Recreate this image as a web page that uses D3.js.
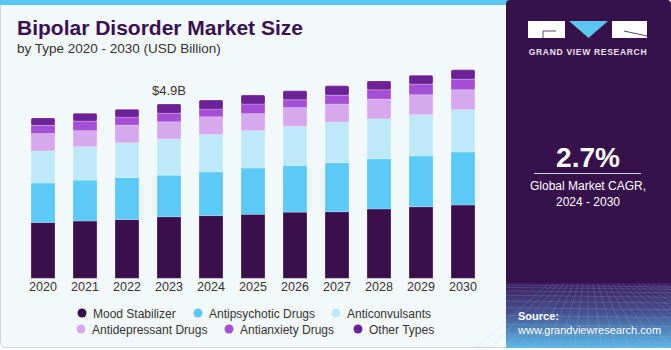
<!DOCTYPE html>
<html>
<head>
<meta charset="utf-8">
<script src="https://cdn.jsdelivr.net/npm/d3@7"></script>
<style>
  html, body { margin: 0; padding: 0; background: #fff; }
  svg { display: block; font-family: "Liberation Sans", Arial, sans-serif; }
</style>
</head>
<body>
<div id="chart"></div>
<script>
// Bipolar disorder market size by type, 2020 - 2030 (USD billion)
const years = ["2020", "2021", "2022", "2023", "2024", "2025", "2026", "2027", "2028", "2029", "2030"];
const seriesNames = ["Mood Stabilizer", "Antipsychotic Drugs", "Anticonvulsants",
                     "Antidepressant Drugs", "Antianxiety Drugs", "Other Types"];
const moodStabilizer = [1.57, 1.61, 1.65, 1.73, 1.76, 1.80, 1.86, 1.87, 1.95, 2.01, 2.06];
const antipsychotic  = [1.11, 1.15, 1.18, 1.17, 1.23, 1.30, 1.31, 1.38, 1.41, 1.43, 1.49];
const anticonvulsant = [0.90, 0.94, 0.98, 1.02, 1.05, 1.05, 1.10, 1.14, 1.12, 1.16, 1.19];
const antidepressant = [0.49, 0.45, 0.50, 0.48, 0.50, 0.48, 0.53, 0.51, 0.56, 0.56, 0.56];
const antianxiety    = [0.23, 0.27, 0.22, 0.24, 0.22, 0.27, 0.22, 0.25, 0.26, 0.30, 0.30];
const otherTypes     = [0.21, 0.22, 0.22, 0.26, 0.25, 0.25, 0.25, 0.26, 0.25, 0.25, 0.26];
const seriesColors = ["#39104b", "#5bcaf6", "#bde9fa", "#d6a9ee", "#a54fd7", "#6c2296"];
const yTicks = [0, 6];
const calloutYear = "2023";
const calloutText = "$4.9B";

const W = 671, H = 350;
const svg = d3.select("#chart").append("svg").attr("width", W).attr("height", H);

const defs = svg.append("defs");
const grad = defs.append("linearGradient").attr("id", "bottomGrad")
  .attr("x1", 0).attr("y1", 0).attr("x2", 0).attr("y2", 1);
grad.append("stop").attr("offset", "0%").attr("stop-color", "#3e1d5e");
grad.append("stop").attr("offset", "45%").attr("stop-color", "#46508e");
grad.append("stop").attr("offset", "100%").attr("stop-color", "#5cb9e6");

// left panel
svg.append("rect").attr("x", 0.5).attr("y", 0.5).attr("width", 512).attr("height", 347)
  .attr("rx", 5).attr("fill", "#f3f8fb").attr("stroke", "#cfd3d6");
svg.append("rect").attr("x", 0).attr("y", 0).attr("width", 510).attr("height", 5)
  .attr("fill", "#5bc6f0");

// right panel
const panel = svg.append("g");
panel.append("rect").attr("x", 506).attr("y", 0).attr("width", 165).attr("height", 348)
  .attr("rx", 4).attr("fill", "#37114a");
panel.append("rect").attr("x", 506).attr("y", 283).attr("width", 165).attr("height", 65)
  .attr("fill", "url(#bottomGrad)");
// faint grid in the lower band
const gridG = panel.append("g").attr("stroke", "#9fc9ee").attr("stroke-opacity", 0.28).attr("stroke-width", 0.7);
d3.range(0, 12).forEach(i => {
  const yy = 285 + i * i * 0.55 + i * 1.8;
  if (yy < 348) gridG.append("line").attr("x1", 506).attr("x2", 671).attr("y1", yy).attr("y2", yy + 2);
});
d3.range(-8, 16).forEach(i => {
  gridG.append("line").attr("x1", 588 + i * 5).attr("y1", 284)
    .attr("x2", 588 + i * 14).attr("y2", 348);
});

// logo
const logo = panel.append("g");
logo.append("rect").attr("x", 528).attr("y", 21).attr("width", 37).attr("height", 17).attr("fill", "#fff");
logo.append("path").attr("d", "M569,21 L608,21 L588.5,38 Z").attr("fill", "#5bc6f0");
logo.append("rect").attr("x", 612).attr("y", 21).attr("width", 35).attr("height", 17).attr("fill", "#fff");
logo.append("path").attr("d", "M556,31 L543,31 L543,38").attr("fill", "none").attr("stroke", "#37114a").attr("stroke-width", 0.8);
logo.append("path").attr("d", "M624,31 L647,36").attr("fill", "none").attr("stroke", "#37114a").attr("stroke-width", 0.8);
panel.append("text").attr("x", 588).attr("y", 54.5).attr("text-anchor", "middle")
  .attr("fill", "#e8e4ee").style("font-size", "8.5px").style("font-weight", "bold")
  .style("letter-spacing", "0.7px").text("GRAND VIEW RESEARCH");

panel.append("text").attr("x", 588).attr("y", 166.5).attr("text-anchor", "middle")
  .attr("fill", "#fff").style("font-size", "28px").style("font-weight", "bold").text("2.7%");
panel.append("line").attr("x1", 534).attr("x2", 641).attr("y1", 173.5).attr("y2", 173.5)
  .attr("stroke", "#d9d2e0").attr("stroke-width", 1);
panel.append("text").attr("x", 588).attr("y", 190).attr("text-anchor", "middle")
  .attr("fill", "#fff").style("font-size", "12px").text("Global Market CAGR,");
panel.append("text").attr("x", 588).attr("y", 205.5).attr("text-anchor", "middle")
  .attr("fill", "#fff").style("font-size", "12px").text("2024 - 2030");
panel.append("text").attr("x", 518).attr("y", 320)
  .attr("fill", "#fff").style("font-size", "11px").style("font-weight", "bold").text("Source:");
panel.append("text").attr("x", 518).attr("y", 334)
  .attr("fill", "#fff").style("font-size", "11px").text("www.grandviewresearch.com");

// titles
svg.append("text").attr("x", 17).attr("y", 35).attr("fill", "#3a1150")
  .style("font-size", "21px").style("font-weight", "bold").text("Bipolar Disorder Market Size");
svg.append("text").attr("x", 17).attr("y", 53).attr("fill", "#333")
  .style("font-size", "13.5px").text("by Type 2020 - 2030 (USD Billion)");

// data table for stack
const seriesValues = [moodStabilizer, antipsychotic, anticonvulsant, antidepressant, antianxiety, otherTypes];
const table = years.map((yr, i) => {
  const row = { year: yr };
  seriesNames.forEach((s, j) => { row[s] = seriesValues[j][i]; });
  return row;
});
const stacked = d3.stack().keys(seriesNames)(table);

const x = d3.scaleBand().domain(years).range([22, 484]).paddingInner(0.43).paddingOuter(0.215);
const y = d3.scaleLinear().domain(yTicks).range([278.3, 278.3 - 6 * 35.57]);

const barsG = svg.append("g");
stacked.forEach((layer, li) => {
  barsG.selectAll(null).data(layer).join("rect")
    .attr("x", d => x(d.data.year))
    .attr("y", d => y(d[1]))
    .attr("width", x.bandwidth())
    .attr("height", d => y(d[0]) - y(d[1]))
    .attr("rx", li === stacked.length - 1 ? 1.5 : 0)
    .attr("fill", seriesColors[li])
    .attr("stroke", "#ffffff").attr("stroke-opacity", 0.25).attr("stroke-width", 0.8);
});

// x axis labels
const xAxis = svg.append("g").attr("transform", "translate(0,278)")
  .call(d3.axisBottom(x).tickSize(0).tickPadding(4));
xAxis.select(".domain").remove();
xAxis.selectAll("text").attr("fill", "#333").style("font-size", "12.5px")
  .style("font-family", "'Liberation Sans', Arial, sans-serif");

// callout
const last = stacked[stacked.length - 1].find(d => d.data.year === calloutYear);
svg.append("text").attr("x", x(calloutYear) + x.bandwidth() / 2).attr("y", y(last[1]) - 9)
  .attr("text-anchor", "middle").attr("fill", "#333").style("font-size", "13px").text(calloutText);

// legend
const legendPos = [
  [82, 313], [198, 313], [336, 313],
  [81, 329], [229, 329], [358, 329]
];
const legend = svg.append("g");
seriesNames.forEach((s, i) => {
  const [lx, ly] = legendPos[i];
  legend.append("circle").attr("cx", lx).attr("cy", ly).attr("r", 4.5).attr("fill", seriesColors[i]);
  legend.append("text").attr("x", lx + 11).attr("y", ly + 4.5).attr("fill", "#333")
    .style("font-size", "12px").text(s);
});
</script>
</body>
</html>
